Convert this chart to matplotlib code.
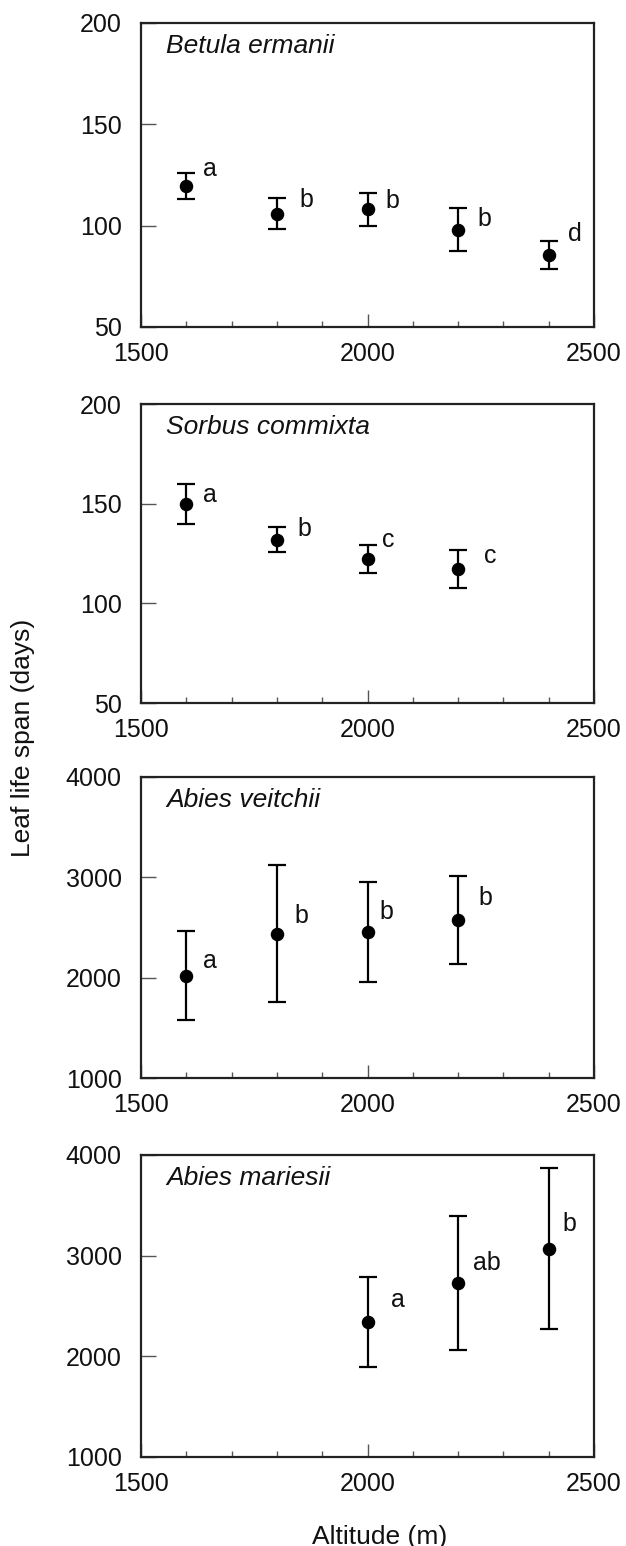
import matplotlib
matplotlib.use("Agg")
import matplotlib.pyplot as plt
from matplotlib.ticker import MultipleLocator, FixedLocator

plt.rcParams['font.family'] = ['Liberation Sans', 'DejaVu Sans']

# ---- data ----
species = ["Betula ermanii", "Sorbus commixta", "Abies veitchii", "Abies mariesii"]

betula_alt = [1600, 1800, 2000, 2200, 2400]
betula_mean = [119.5, 106.0, 108.0, 98.0, 85.5]
betula_err = [6.5, 7.8, 8.2, 10.7, 6.8]
betula_letters = ["a", "b", "b", "b", "d"]

sorbus_alt = [1600, 1800, 2000, 2200]
sorbus_mean = [150.0, 132.0, 122.3, 117.3]
sorbus_err = [10.0, 6.4, 7.2, 9.6]
sorbus_letters = ["a", "b", "c", "c"]

veitchii_alt = [1600, 1800, 2000, 2200]
veitchii_mean = [2020, 2440, 2455, 2578]
veitchii_err = [446, 681, 499, 440]
veitchii_letters = ["a", "b", "b", "b"]

mariesii_alt = [2000, 2200, 2400]
mariesii_mean = [2340, 2730, 3070]
mariesii_err = [447, 663, 797]
mariesii_letters = ["a", "ab", "b"]

ylims = [(50, 200), (50, 200), (1000, 4000), (1000, 4000)]
yticks = [[50, 100, 150, 200], [50, 100, 150, 200],
          [1000, 2000, 3000, 4000], [1000, 2000, 3000, 4000]]
xticks = [1500, 2000, 2500]

# label offsets (pixels, right / up) for the significance letters
offsets = [
    [(24, 10), (29, 7), (25, 1), (26, 4), (26, 14)],
    [(24, 2), (27, 4), (21, 12), (32, 6)],
    [(24, 8), (24, 11), (19, 13), (27, 15)],
    [(30, 15), (29, 13), (21, 18)],
]

datasets = [
    (betula_alt, betula_mean, betula_err, betula_letters),
    (sorbus_alt, sorbus_mean, sorbus_err, sorbus_letters),
    (veitchii_alt, veitchii_mean, veitchii_err, veitchii_letters),
    (mariesii_alt, mariesii_mean, mariesii_err, mariesii_letters),
]

W, H = 626, 1546
fig = plt.figure(figsize=(W / 100, H / 100), dpi=100)

# axes boxes in pixels: (top, bottom)
boxes = [(23, 327), (404, 703), (777, 1078), (1155, 1457)]
left_px, right_px = 141, 594

fs = 18
for i, ((top, bot), (alt, mean, err, letters)) in enumerate(zip(boxes, datasets)):
    ax = fig.add_axes([left_px / W, 1 - bot / H, (right_px - left_px) / W, (bot - top) / H])
    ax.errorbar(alt, mean, yerr=err, fmt='o', color='black', ms=8.7,
                elinewidth=1.6, capsize=6.5, capthick=1.6, zorder=3)
    for x, y, lab, (dx, dy) in zip(alt, mean, letters, offsets[i]):
        ax.annotate(lab, (x, y), xytext=(dx, dy), textcoords='offset pixels',
                    ha='center', va='baseline', fontsize=fs, color='#111111')
    ax.set_xlim(1500, 2500)
    ax.set_ylim(*ylims[i])
    ax.xaxis.set_major_locator(FixedLocator(xticks))
    ax.xaxis.set_minor_locator(MultipleLocator(100))
    ax.yaxis.set_major_locator(FixedLocator(yticks[i]))
    ax.tick_params(axis='x', which='major', direction='in', length=9.4, width=1.0,
                   color='#555555', labelsize=fs, pad=11, labelcolor='#111111')
    ax.tick_params(axis='x', which='minor', direction='in', length=4.3, width=1.0,
                   color='#555555')
    ax.tick_params(axis='y', which='major', direction='in', length=10.5, width=1.0,
                   color='#555555', labelsize=fs, pad=14, labelcolor='#111111')
    for sp in ax.spines.values():
        sp.set_linewidth(1.6)
        sp.set_color('#222222')
    ax.text(0.055, 0.9, species[i], transform=ax.transAxes, fontsize=19,
            style='italic', ha='left', va='baseline', color='#111111')

fig.text(23 / W, 1 - 738 / H, "Leaf life span (days)", rotation=90,
         ha='center', va='center', fontsize=19, color='#111111')
fig.text(380 / W, 1 - 1537 / H, "Altitude (m)", ha='center', va='center',
         fontsize=19, color='#111111')

fig.savefig("out.png", dpi=100)
